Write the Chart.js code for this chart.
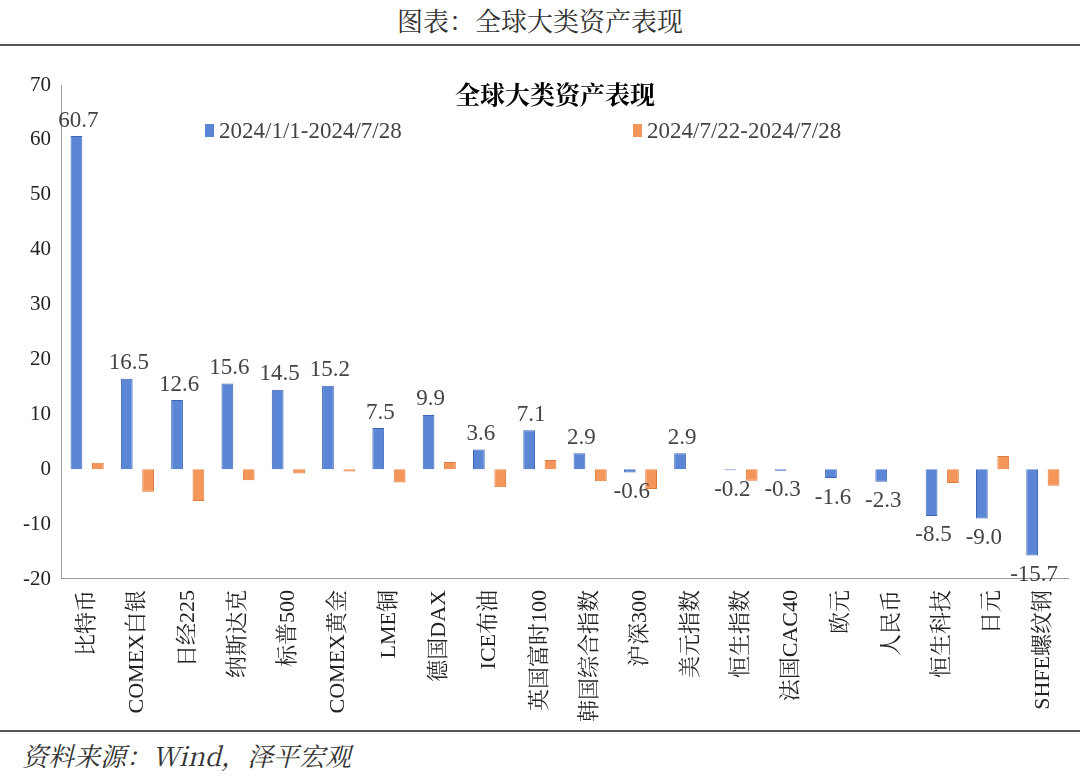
<!DOCTYPE html><html><head><meta charset="utf-8">
<script src="https://cdn.jsdelivr.net/npm/chart.js@4"></script>
<style>body{margin:0;width:1080px;height:783px;background:#fff;font-family:"Noto Serif CJK SC","Noto Sans CJK SC",serif;position:relative;overflow:hidden}
#h{position:absolute;top:0;left:0;width:1080px;text-align:center;font-size:26px;color:#333;line-height:40px}
#l1{position:absolute;top:44px;left:0;width:1080px;border-top:2px solid #555}
#l2{position:absolute;top:730px;left:0;width:1080px;border-top:2px solid #555}
#f{position:absolute;top:736px;left:22px;font-size:26px;font-style:italic;color:#333}
#c{position:absolute;top:60px;left:0;width:1080px;height:665px}</style></head><body>
<div id="h">图表：全球大类资产表现</div><div id="l1"></div><div id="l2"></div>
<div id="f">资料来源：Wind，泽平宏观</div>
<div id="c"><canvas id="cv"></canvas></div>
<script>
const categories=["比特币","COMEX白银","日经225","纳斯达克","标普500","COMEX黄金","LME铜","德国DAX","ICE布油","英国富时100","韩国综合指数","沪深300","美元指数","恒生指数","法国CAC40","欧元","人民币","恒生科技","日元","SHFE螺纹钢"];
const ytd=[60.7,16.5,12.6,15.6,14.5,15.2,7.5,9.9,3.6,7.1,2.9,-0.6,2.9,-0.2,-0.3,-1.6,-2.3,-8.5,-9.0,-15.7];
const week=[1.2,-4.1,-5.8,-2.0,-0.8,-0.4,-2.4,1.3,-3.3,1.7,-2.2,-3.6,0,-2.1,0,0,0,-2.5,2.4,-3.0];
const seriesNames=['2024/1/1-2024/7/28','2024/7/22-2024/7/28'];
const F='"Liberation Serif","Noto Serif CJK SC","Noto Sans CJK SC",serif';
const labelPlugin={id:'lbl',afterDatasetsDraw(c){const ctx=c.ctx;const m=c.getDatasetMeta(0);ctx.save();ctx.font='23px '+F;ctx.fillStyle='#444';ctx.textAlign='center';
m.data.forEach((b,i)=>{const v=ytd[i];let yy;if(v>=0){ctx.textBaseline='bottom';yy=b.y-4;}else{ctx.textBaseline='top';yy=b.y+8;}ctx.fillText(v.toFixed(1),b.x+2,yy);});
ctx.textAlign='center';ctx.textBaseline='middle';ctx.fillStyle='#000';ctx.font='bold 25px '+F;ctx.fillText('全球大类资产表现',555,38);
ctx.font='23px '+F;ctx.fillStyle='#444';ctx.textAlign='left';
[[205,'#5b86d6'],[633,'#f4955a']].forEach(([x,col],k)=>{ctx.fillStyle=col;ctx.fillRect(x,64,9,13);ctx.fillStyle='#444';ctx.fillText(seriesNames[k],x+14,72);});
ctx.restore();}};
new Chart(document.getElementById('cv'),{type:'bar',data:{labels:categories,datasets:[
{label:seriesNames[0],data:ytd,backgroundColor:'#5b86d6',borderColor:'#3f66b8',borderWidth:1,barPercentage:0.55,categoryPercentage:0.85},
{label:seriesNames[1],data:week,backgroundColor:'#f4955a',borderColor:'#e07a3a',borderWidth:1,barPercentage:0.55,categoryPercentage:0.85}]},
options:{responsive:true,maintainAspectRatio:false,animation:false,layout:{padding:{left:20,right:12,top:25}},
plugins:{legend:{display:false},tooltip:{enabled:false}},
scales:{x:{grid:{display:false,drawTicks:true,tickLength:8},border:{color:'#999'},ticks:{font:{size:22,family:F},color:'#222',maxRotation:90,minRotation:90,autoSkip:false}},
y:{min:-20,max:70,ticks:{stepSize:10,font:{size:21,family:F},color:'#222'},grid:{display:false},border:{color:'#999'}}}},plugins:[labelPlugin]});
</script></body></html>
